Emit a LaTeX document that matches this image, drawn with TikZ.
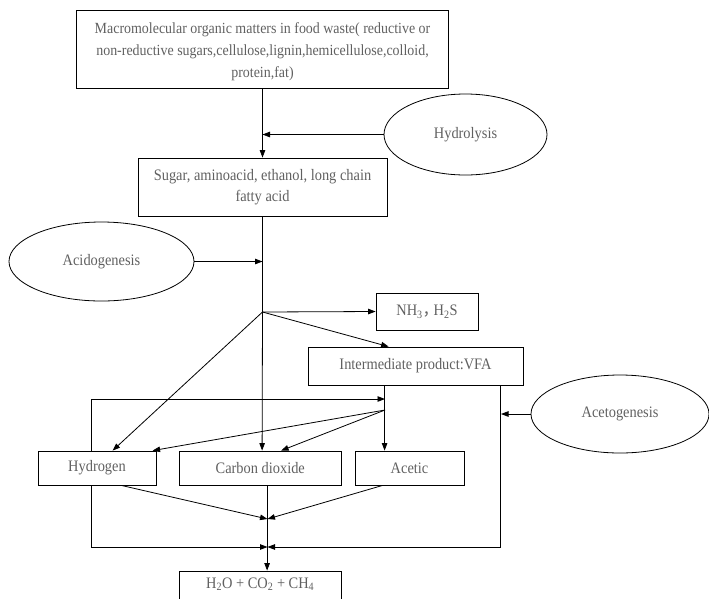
\documentclass[tikz,border=0pt]{standalone}
\usepackage{fontspec}
\setmainfont{Liberation Serif}[FakeStretch=0.9]
\newfontfamily\cjk{Noto Sans CJK SC}
\usetikzlibrary{arrows.meta,shapes.geometric}
\definecolor{txt}{HTML}{606060}
\begin{document}
\begin{tikzpicture}[x=1pt,y=-1pt,
  bx/.style={draw, rectangle, line width=0.8pt, text=txt, align=center, inner sep=0pt,
    font=\fontsize{16}{21}\selectfont},
  ell/.style={draw, ellipse, line width=0.8pt, text=txt, inner sep=0pt,
    font=\fontsize{16}{21}\selectfont},
  ln/.style={line width=0.8pt},
  arr/.style={ln, -{Triangle[length=7.5pt,width=5.5pt]}}]
\useasboundingbox (0,0) rectangle (709,598);
% boxes
\node[bx, minimum width=372pt, minimum height=78pt, font=\fontsize{15.5}{22}\selectfont] (top) at (262.5,49)
  {\strut Macromolecular organic matters in food waste( reductive or\\non-reductive sugars,cellulose,lignin,hemicellulose,colloid,\\protein,fat)};
\node[bx, minimum width=249pt, minimum height=58pt] (sug) at (262.5,187)
  {Sugar, aminoacid, ethanol, long chain\\fatty acid};
\node[bx, minimum width=102pt, minimum height=37pt] (nh) at (427,311.5)
  {NH\textsubscript{3}\makebox[11pt][l]{\cjk ，}H\textsubscript{2}S};
\node[bx, minimum width=215pt, minimum height=38pt] (vfa) at (415.5,366)
  {Intermediate product:VFA};
\node[bx, minimum width=118pt, minimum height=34pt] (hyd) at (97,468) {Hydrogen};
\node[bx, minimum width=161.5pt, minimum height=34pt] (carb) at (260.25,468) {Carbon dioxide};
\node[bx, minimum width=109pt, minimum height=34pt] (acet) at (409.5,468) {Acetic};
\node[bx, minimum width=161.5pt, minimum height=40pt] (prod) at (260.25,591) {};
\node[text=txt, font=\fontsize{16}{21}\selectfont] (prodt) at (260.25,584)
  {H\textsubscript{2}O + CO\textsubscript{2} + CH\textsubscript{4}};
% ellipses
\node[ell, minimum width=163pt, minimum height=81pt] (hydro) at (465.5,134.5) {Hydrolysis};
\node[ell, minimum width=185pt, minimum height=79pt] (acido) at (101.5,261.5) {Acidogenesis};
\node[ell, minimum width=178pt, minimum height=78pt] (aceto) at (620,414) {Acetogenesis};
% junctions
\coordinate (br) at (262.5,312);
\coordinate (hub) at (385,410);
\coordinate (m1) at (267.5,519);
\coordinate (m2) at (267.5,547);
% connectors
\draw[arr] (top.south) -- (sug.north);
\draw[arr] (hydro.west) -- (hydro.west -| top.south);
\draw[ln] (sug.south) -- (br);
\draw[arr] (acido.east) -- (acido.east -| sug.south);
\draw[arr] (br) -- (nh.west);
\draw[arr] (br) -- ([xshift=81pt]vfa.north west);
\draw[arr] (br) -- ([xshift=75pt]hyd.north west);
\draw[arr] (br) -- ([xshift=83pt]carb.north west);
\draw[arr] ([xshift=77pt]vfa.south west) -- ([xshift=30pt]acet.north west);
\draw[arr] (hub) -- ([xshift=102pt]carb.north west);
\draw[arr] (hub) -- ([xshift=115pt]hyd.north west);
\draw[arr] ([xshift=53.5pt]hyd.north west) |- (hub |- 0,399);
\draw[arr] ([xshift=83.7pt]hyd.south west) -- (m1);
\draw[arr] ([xshift=28pt]acet.south west) -- (m1);
\draw[arr] ([xshift=88pt]carb.south west) -- ([xshift=88pt]prod.north west);
\draw[arr] ([xshift=53.5pt]hyd.south west) |- (m2);
\draw[arr] ([xshift=193pt]vfa.south west) |- (m2);
\draw[arr] (aceto.west) -- (aceto.west -| 501,0);
\end{tikzpicture}
\end{document}
